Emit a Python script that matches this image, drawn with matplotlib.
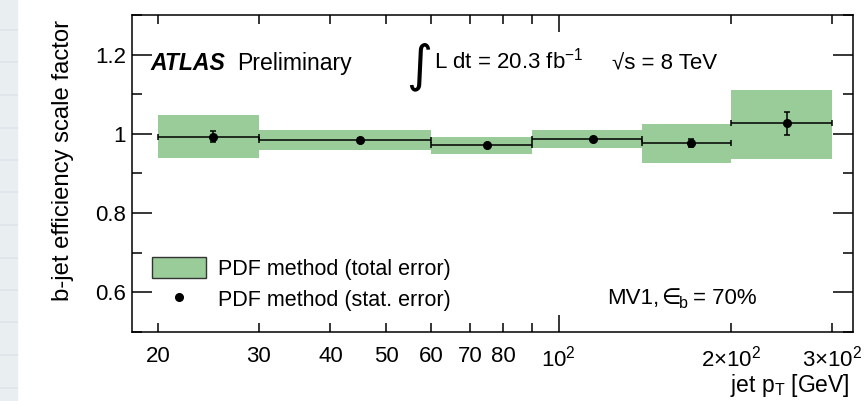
import numpy as np
import matplotlib
matplotlib.use("Agg")
import matplotlib.pyplot as plt
from matplotlib.patches import Patch, Rectangle
from matplotlib.lines import Line2D

plt.rcParams['font.family'] = ['Liberation Sans', 'DejaVu Sans']
plt.rcParams['mathtext.fontset'] = 'custom'
plt.rcParams['mathtext.rm'] = 'Liberation Sans'
plt.rcParams['mathtext.it'] = 'Liberation Sans:italic'
plt.rcParams['mathtext.bf'] = 'Liberation Sans:bold'

# jet pT bins [GeV] and scale factors
bin_lo = [20, 30, 60, 90, 140, 200]
bin_hi = [30, 60, 90, 140, 200, 300]
pt_center = [25, 45, 75, 115, 170, 250]
sf = [0.993, 0.985, 0.971, 0.986, 0.977, 1.026]
sf_stat = [0.015, 0.004, 0.004, 0.004, 0.010, 0.030]
tot_lo = [0.940, 0.959, 0.949, 0.963, 0.927, 0.937]
tot_hi = [1.048, 1.010, 0.992, 1.010, 1.025, 1.111]

xmin_ticks = [20, 30, 40, 50, 60, 70, 80, 90, 200, 300]
xmin_labels = ['20', '30', '40', '50', '60', '70', '80', '',
               r'2$\times$10$^{2}$', r'3$\times$10$^{2}$']
ymaj_ticks = [0.6, 0.8, 1.0, 1.2]
ymaj_labels = ['0.6', '0.8', '1', '1.2']

W, H = 867, 401
fig = plt.figure(figsize=(W / 100, H / 100), dpi=100)


def px(x, y):
    return x / W, 1 - y / H


# blurred slide background strip on the left
fig.add_artist(Rectangle((0, 0), 17 / W, 1, transform=fig.transFigure,
                         color='#e9eef1', zorder=0))
for yy in [30, 62, 95, 128, 160, 192, 225, 258, 290, 322, 355, 388]:
    fig.add_artist(Line2D([0, 17 / W], [1 - yy / H] * 2, transform=fig.transFigure,
                          color='#dde4e9', lw=1.2, zorder=0))

ax = fig.add_axes([131.7 / W, 1 - 331.7 / H, 721 / W, 316.7 / H])
ax.set_xscale('log')
ax.set_xlim(18.0, 326)
ax.set_ylim(0.5, 1.3)

lo = np.array(bin_lo)
hi = np.array(bin_hi)
xc = np.array(pt_center)
ax.bar(lo, np.array(tot_hi) - np.array(tot_lo), width=hi - lo, bottom=tot_lo,
       align='edge', color='#99cc99', edgecolor='none', zorder=1)
ax.errorbar(xc, sf, xerr=[xc - lo, hi - xc], yerr=sf_stat, fmt='o', color='black',
            ms=5.5, lw=1.1, capsize=2, capthick=1.1, zorder=3)

ax.set_xticks([100], [r'10$^{2}$'])
ax.set_xticks(xmin_ticks, xmin_labels, minor=True)
ax.set_yticks(ymaj_ticks, ymaj_labels)
ax.set_yticks([0.5, 0.7, 0.9, 1.1, 1.3], minor=True)

ax.tick_params(axis='both', which='both', direction='in', top=True, right=True,
               labelsize=16, width=1.1)
ax.tick_params(axis='x', which='major', length=12, pad=10)
ax.tick_params(axis='x', which='minor', length=6.5, pad=10)
ax.tick_params(axis='y', which='major', length=14.5, pad=4)
ax.tick_params(axis='y', which='minor', length=7.2)
for s in ax.spines.values():
    s.set_linewidth(1.1)

# axis titles
fig.text(*px(850, 392), r'jet p$_{\mathrm{T}}$ [GeV]', ha='right', va='baseline',
         fontsize=16.5)
fig.text(*px(63, 20), 'b-jet efficiency scale factor', rotation=90, ha='center',
         va='top', fontsize=17.2)

# labels
fig.text(*px(150.5, 70), 'ATLAS', fontsize=16.6, fontweight='bold', style='italic',
         va='baseline')
fig.text(*px(237, 70), 'Preliminary', fontsize=16.6, va='baseline')
fig.text(*px(406, 80), '\u222b', fontsize=36, va='baseline', family='DejaVu Sans')
fig.text(*px(434, 69), r'L dt = 20.3 fb$^{-1}$', fontsize=16, va='baseline')
fig.text(*px(612, 69), '\u221as = 8 TeV', fontsize=16, va='baseline')

# MV1, eps_b = 70%
fig.text(*px(607, 304), 'MV1,', fontsize=16, va='baseline')
fig.text(*px(661, 304), '\u2208', fontsize=16, va='baseline', family='DejaVu Sans')
fig.text(*px(679, 308), 'b', fontsize=11.5, va='baseline')
fig.text(*px(693, 304), '= 70%', fontsize=16, va='baseline')

handles = [Patch(facecolor='#99cc99', edgecolor='#333333', lw=1.0),
           Line2D([], [], marker='o', color='black', ls='none', ms=5.5)]
ax.legend(handles, ['PDF method (total error)', 'PDF method (stat. error)'],
          loc='upper left', bbox_to_anchor=(0.028, 0.235), frameon=False,
          fontsize=15.5, handlelength=2.5, handleheight=1.1, handletextpad=0.55,
          labelspacing=0.4, borderpad=0, borderaxespad=0)

fig.savefig('out.png', dpi=100)
